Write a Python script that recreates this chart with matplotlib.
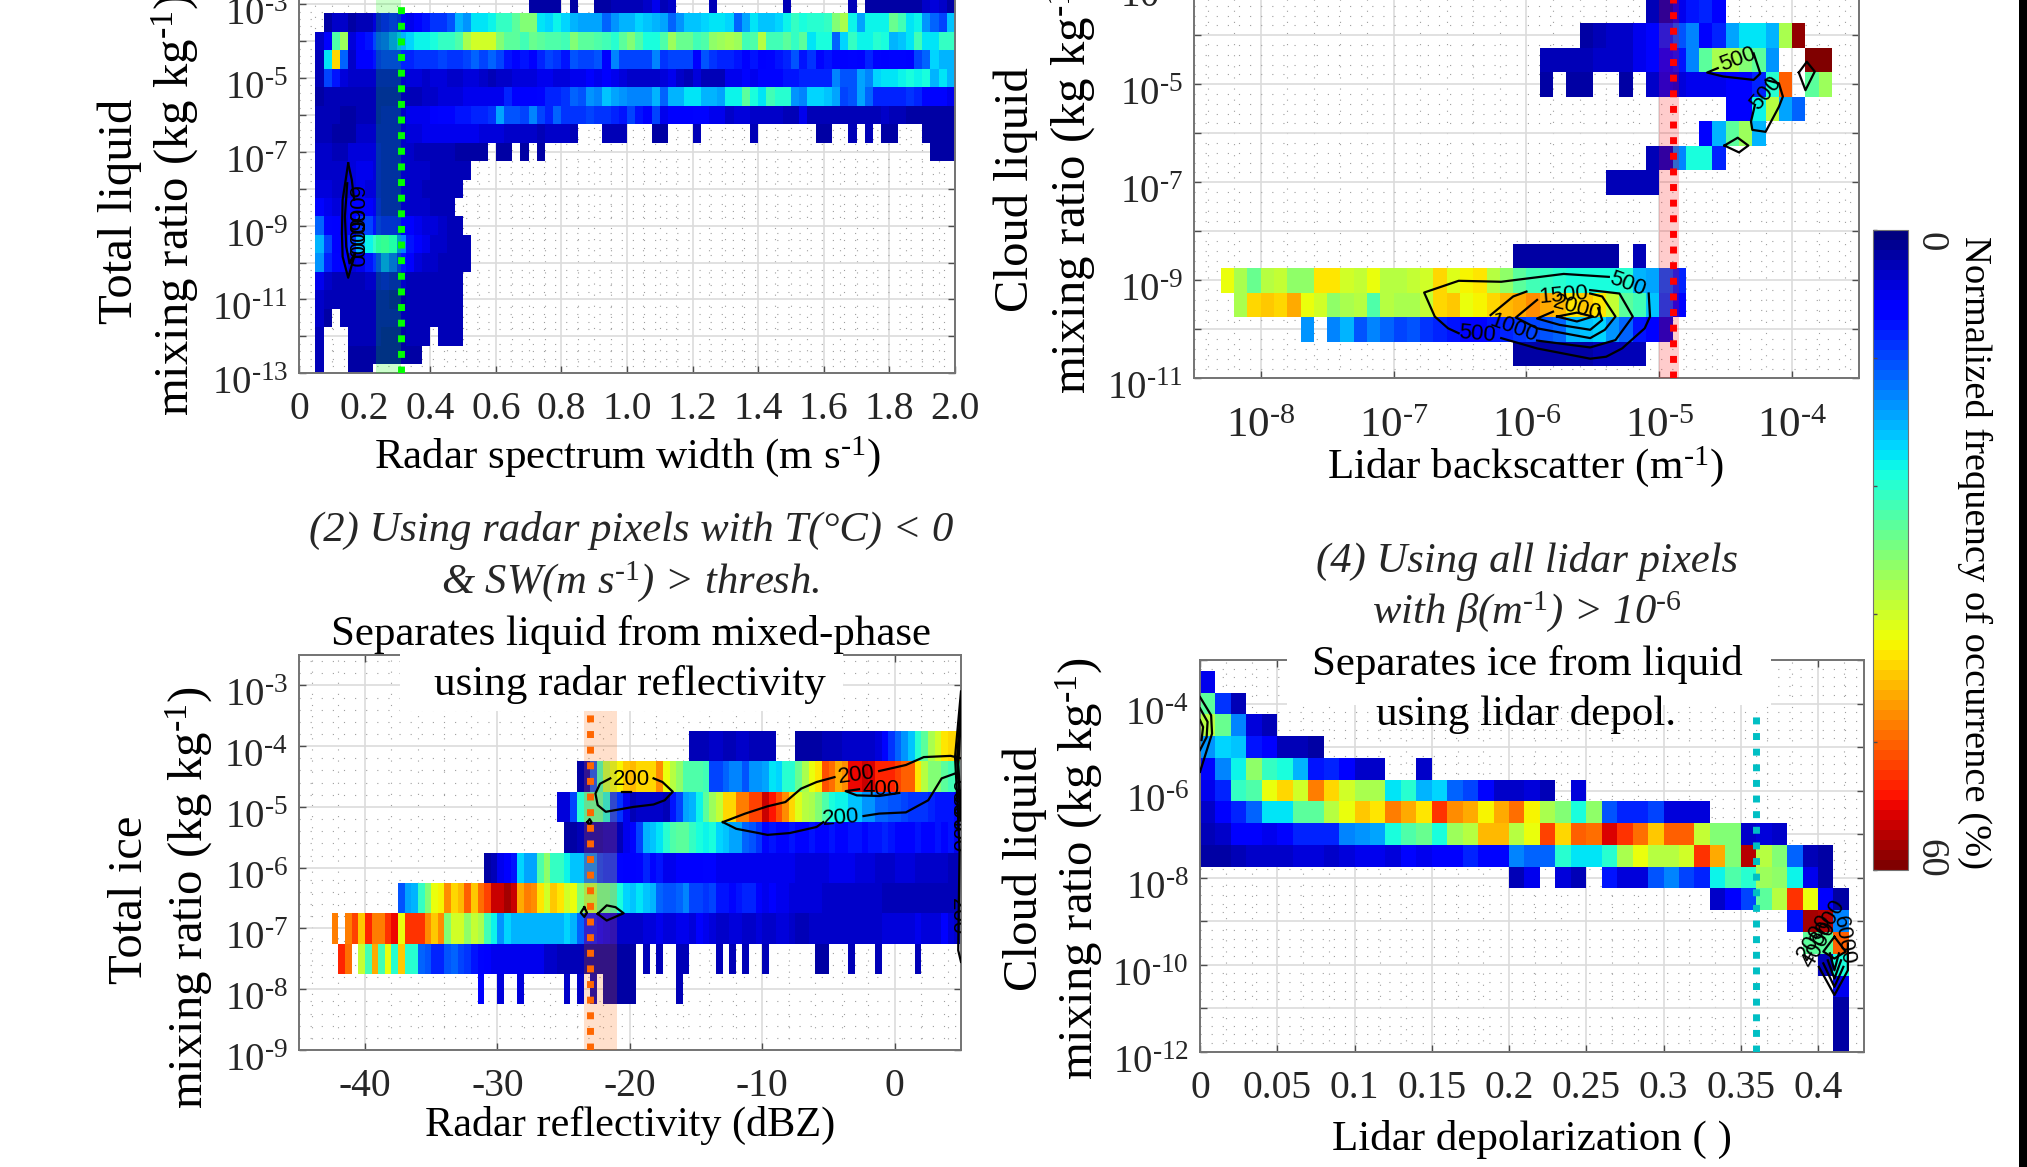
import numpy as np
import matplotlib
matplotlib.use("Agg")
import matplotlib.pyplot as plt
from matplotlib.cm import ScalarMappable
from matplotlib.colors import Normalize
from matplotlib.patches import Rectangle
from matplotlib.ticker import LogLocator, FixedLocator, NullFormatter
from matplotlib.transforms import ScaledTranslation

plt.rcParams["font.family"] = ["Liberation Serif", "DejaVu Serif"]
plt.rcParams["mathtext.fontset"] = "custom"
plt.rcParams["mathtext.rm"] = "Liberation Serif"
plt.rcParams["mathtext.it"] = "Liberation Serif:italic"
plt.rcParams["mathtext.bf"] = "Liberation Serif:bold"

W, H = 2027, 1167
_ = None

# Each grid is listed from the lowest row up, values are % of occurrence

# (1) spectrum width, bins of 0.025 m/s, log10 rows from -13.25 every 0.5
SW_THRESH = 0.311
SW_BAND = [0.235, 0.311]
SW_GRID = [
    [_]*2 + [3] + [_]*3 + [2, 2, 2],
    [_]*2 + [3] + [_]*3 + [2, 2, 2, 2, 2, 2, 2, 2, 2],
    [_]*2 + [3] + [_]*3 + [3, 3, 3, 3, 2, 2, 2, 3, 3, 3] + [_] + [3, 3, 3],
    [_]*2 + [4, 2] + [_] + [3, 3, 3, 3, 3, 3, 3, 3, 3, 3, 3, 3, 3, 3, 3],
    [_]*2 + [4, 3, 3, 3, 3, 3, 3, 3, 3, 2, 2, 3, 3, 3, 3, 3, 3, 3],
    [_]*2 + [6, 4, 3, 3, 3, 3, 4, 4, 5, 4, 4, 3, 3, 3, 3, 3, 3, 3],
    [_]*2 + [16, 10, 8, 7, 5, 6, 9, 11, 15, 13, 9, 7, 5, 4, 4, 3, 3, 3, 3],
    [_]*2 + [18, 12, 7, 7, 11, 18, 22, 25, 26, 24, 15, 9, 7, 6, 4, 4, 3, 3, 3],
    [_]*2 + [14, 8, 7, 6, 8, 11, 12, 9, 8, 8, 7, 7, 6, 5, 5, 4, 3, 3],
    [_]*2 + [8, 6, 5, 6, 7, 7, 7, 6, 4, 4, 4, 4, 4, 4, 3, 3, 3],
    [_]*2 + [5, 5, 4, 4, 5, 6, 5, 5, 4, 4, 4, 4, 4, 3, 3, 3, 3, 3],
    [_]*2 + [4, 4, 4, 4, 5, 6, 6, 5, 4, 4, 4, 4, 4, 4, 3, 3, 3, 3, 3],
    [_]*2 + [4, 4, 3, 3, 5, 5, 5, 5, 4, 4, 4, 4, 3, 3, 3, 3, 3, 2, 2, 2, 2] + [_]
    + [2, 2] + [_] + [2] + [_] + [2] + [_]*47 + [2, 2, 2],
    [_]*2 + [3, 3, 2, 2, 2, 4, 4, 4, 4, 4, 4, 5, 5, 6, 6, 6, 6, 6, 6, 6, 5, 5, 5, 4,
             4, 4, 4, 3, 4, 4, 4, 3] + [_]*3 + [3, 3, 3] + [_]*3 + [2, 2] + [_]*3
    + [3] + [_]*6 + [3] + [_]*7 + [2, 2] + [_]*2 + [3] + [_] + [3] + [_] + [2, 2]
    + [_]*3 + [2, 2, 2, 2],
    [_]*2 + [3, 3, 3, 2, 2, 3, 3, 3, 4, 4, 4, 6, 6, 6, 7, 8, 8, 9, 9, 10, 10, 11, 17,
             13, 13, 12, 15, 12, 10, 14, 11, 11, 11, 12, 11, 11, 10, 9, 12, 9, 7, 12,
             6, 7, 7, 7, 8, 8, 6, 6, 4, 5, 5, 4, 4, 4, 4, 3, 3, 6, 3, 3, 3, 3, 3, 3,
             3, 3, 3, 4, 3, 3, 2, 2, 2, 2, 2, 2],
    [_]*2 + [2, 3, 3, 3, 3, 3, 3, 3, 3, 3, 3, 3, 3, 4, 4, 5, 5, 5, 6, 6, 6, 6, 6, 10,
             7, 7, 7, 8, 10, 10, 11, 14, 13, 16, 15, 19, 17, 16, 15, 15, 15, 18, 14,
             18, 18, 21, 21, 18, 18, 17, 22, 22, 28, 23, 21, 26, 24, 24, 16, 15, 20,
             20, 19, 17, 12, 13, 17, 14, 10, 10, 10, 10, 11, 10, 8, 8, 8, 6],
    [_]*2 + [3, 12, 9, 5, 4, 4, 4, 4, 4, 4, 4, 5, 5, 4, 5, 5, 4, 4, 5, 5, 4, 3, 4, 4,
             5, 5, 5, 6, 6, 5, 5, 6, 6, 7, 6, 7, 6, 5, 4, 4, 4, 4, 5, 6, 4, 3, 5, 3,
             3, 3, 6, 6, 8, 6, 8, 8, 8, 9, 9, 10, 10, 10, 10, 15, 13, 13, 17, 15, 20,
             21, 21, 22, 23, 22, 23, 18, 21, 18],
    [_]*2 + [3, 21, 41, 14, 4, 7, 7, 9, 10, 10, 10, 10, 11, 11, 11, 12, 11, 11, 12,
             14, 12, 14, 12, 9, 8, 9, 7, 10, 12, 11, 9, 13, 12, 12, 13, 7, 15, 12, 12,
             12, 12, 15, 11, 12, 12, 12, 7, 13, 11, 10, 10, 9, 7, 9, 7, 8, 9, 10, 13,
             9, 11, 8, 9, 8, 7, 8, 7, 10, 8, 7, 8, 8, 7, 12, 14, 20, 18, 18],
    [_]*2 + [4, 7, 27, 32, 5, 8, 9, 12, 13, 15, 18, 20, 22, 22, 23, 25, 25, 27, 33,
             36, 36, 36, 30, 28, 28, 26, 29, 28, 27, 27, 26, 30, 28, 28, 27, 26, 24,
             28, 30, 27, 23, 23, 27, 32, 29, 29, 26, 27, 31, 32, 33, 32, 26, 27, 34,
             26, 26, 28, 25, 28, 21, 23, 23, 14, 20, 25, 22, 22, 24, 23, 18, 19, 21,
             26, 21, 21, 25, 25],
    [_]*3 + [2, 4, 4, 2, 3, 3, 5, 7, 9, 7, 6, 8, 9, 11, 11, 13, 18, 16, 21, 21, 22,
             25, 25, 28, 30, 30, 21, 20, 22, 20, 18, 17, 17, 17, 14, 16, 18, 18, 20,
             19, 18, 17, 14, 16, 19, 19, 20, 21, 21, 20, 14, 17, 21, 19, 19, 20, 22,
             25, 23, 24, 24, 25, 30, 33, 22, 17, 22, 22, 22, 29, 26, 21, 22, 16, 14,
             12, 19],
    [_]*28 + [2, 2, 2, 2] + [_] + [2] + [_]*2 + [2, 2, 3, 3, 3, 3, 4, 6, 3, 4] + [_]*4
    + [3] + [_]*8 + [3] + [_]*7 + [3] + [_] + [2, 2, 2, 2, 2, 2, 2, 4, 5, 4, 2, 2],
]

# (2) reflectivity, bins of 0.5 dBZ from -45, log10 rows from -8.25 every 0.5
DBZ_THRESH = -23.0
DBZ_BAND = [-23.5, -21.0]
DBZ_GRID = [
    [_]*27 + [7] + [_]*2 + [5] + [_]*2 + [5] + [_]*6 + [4] + [_] + [4] + [_] + [3] + [_]
    + [2, 2, 2, 2, 2] + [_]*6 + [3],
    [_]*6 + [52, 47] + [_] + [35, 26, 44, 26, 38, 24, 42, 24, 24, 14, 13, 10, 10, 13, 14,
                              12, 11, 9, 8, 7, 6, 6, 6, 6, 6, 6, 6, 6, 4, 4, 3, 3, 3, 3,
                              2, 2, 2, 2, 2, 2, 2, 2] + [_] + [3] + [_] + [3] + [_]*2
    + [3, 3] + [_]*4 + [3] + [_] + [3] + [_] + [3] + [_]*2 + [3] + [_]*7 + [2, 2]
    + [_]*3 + [3] + [_]*3 + [3] + [_]*5 + [3],
    [_]*5 + [46] + [_] + [46, 50, 42, 52, 46, 46, 51, 54, 38, 51, 51, 51, 45, 42, 45, 30,
                          36, 36, 31, 35, 33, 26, 22, 16, 20, 18, 18, 18, 18, 18, 18, 18,
                          18, 20, 18, 14, 9, 9, 7, 6, 5, 4, 4, 4, 4, 5, 5, 6, 5, 5, 6, 6,
                          5, 7, 6, 5, 4, 4, 5, 5, 4, 4, 5, 4, 4, 5, 5, 4, 3, 3, 4, 4, 4,
                          4, 4, 4, 4, 4, 4, 4, 4, 5, 5, 5, 5, 5, 6, 5, 5, 5, 7, 5, 4],
    [_]*15 + [13, 17, 18, 25, 30, 38, 39, 45, 41, 43, 48, 42, 47, 50, 56, 56, 58, 56, 44,
              46, 45, 40, 36, 42, 40, 36, 38, 30, 32, 33, 28, 28, 26, 23, 20, 19, 21, 19,
              18, 14, 13, 13, 14, 15, 12, 12, 11, 12, 9, 9, 8, 9, 10, 10, 7, 6, 7, 6, 6,
              5, 5, 5, 5, 5, 4, 4, 4, 4, 4, 4, 4, 4, 4, 3, 3, 3, 3, 3, 3, 3, 3, 3, 3, 3, 3],
    [_]*28 + [2, 3, 6, 7, 9, 20, 17, 17, 27, 31, 25, 25, 22, 19, 19, 15, 15, 12, 11, 11, 8,
              7, 7, 8, 10, 8, 9, 6, 6, 7, 7, 7, 7, 8, 8, 6, 6, 6, 6, 6, 6, 6, 6, 6, 6, 6,
              6, 5, 5, 5, 5, 5, 6, 6, 6, 6, 5, 5, 5, 4, 4, 4, 5, 5, 5, 4, 4, 4, 4, 4, 3, 3],
    [_]*40 + [2, 2, 3, 3, 3, 3, 4, 4, 3, 6, 8, 12, 18, 19, 21, 24, 27, 28, 28, 25, 23, 22,
              23, 20, 19, 17, 17, 14, 13, 11, 8, 9, 8, 8, 9, 8, 8, 9, 8, 8, 9, 8, 8, 9, 9,
              8, 9, 9, 10, 9, 8, 8, 8, 9, 8, 8, 9, 8, 9, 6],
    [_]*39 + [5, 5, 12, 24, 26, 27, 27, 22, 12, 11, 6, 3, 4, 4, 4, 4, 3, 9, 12, 17, 18, 22,
              28, 32, 35, 41, 41, 46, 46, 50, 50, 56, 53, 49, 45, 41, 37, 34, 33, 30, 27,
              23, 22, 22, 19, 19, 16, 16, 14, 14, 13, 13, 12, 11, 11, 11, 10, 9, 9, 9, 8],
    [_]*42 + [2, 3, 13, 25, 33, 36, 39, 42, 43, 41, 41, 41, 45, 38, 34, 31, 27, 27, 27, 26,
              12, 12, 14, 15, 15, 13, 16, 16, 17, 21, 20, 24, 24, 29, 33, 38, 40, 49, 47,
              44, 45, 54, 54, 56, 55, 52, 52, 52, 50, 48, 48, 40, 34, 30, 30, 28, 26, 26],
    [_]*59 + [3, 3, 3, 4, 4, 3, 3, 4, 4, 3, 3, 3, 3] + [_]*3
    + [2, 2, 2, 2, 3, 3, 3, 4, 4, 4, 4, 4, 5, 8, 11, 14, 16, 19, 24, 28, 33, 36, 40, 41, 41],
]

# (3) lidar backscatter, bins of 0.1 decade from -8.5, log10 rows from -10.75 every 0.5
BETA_THRESH = -4.9
BETA_BAND = [-5.0, -4.85]
BETA_GRID = [
    [_]*24 + [2, 2, 2, 2, 2, 2, 3, 3, 3, 3],
    [_]*8 + [16] + [_] + [15, 18, 13, 15, 14, 12, 13, 11, 10, 9, 8, 8, 9, 10, 11, 12, 13,
                          14, 18, 19, 20, 16, 14, 9, 7, 5],
    [_]*3 + [33, 41, 42, 41, 44, 38, 36, 31, 33, 34, 27, 34, 33, 33, 35, 41, 42, 38, 39, 41,
             43, 44, 45, 44, 43, 40, 42, 40, 35, 28, 26, 19, 12, 8],
    [_]*2 + [38, 33, 29, 34, 35, 31, 31, 40, 40, 36, 35, 38, 34, 34, 35, 36, 41, 37, 39, 40,
             34, 31, 28, 26, 25, 24, 23, 23, 23, 23, 24, 18, 17, 13, 10],
    [_]*24 + [2, 2, 2, 2, 2, 2, 2, 2] + [_] + [3],
    [],
    [],
    [_]*31 + [3, 3, 3, 3],
    [_]*34 + [3, 4, 15, 23, 23, 10],
    [_]*38 + [7, 18, 28, 32, 18],
    [_]*40 + [7, 7, 22, 34, 17, 14],
    [_]*26 + [2] + [_] + [2, 2] + [_]*2 + [2] + [_] + [4, 6, 5, 6, 6, 6, 7, 7, 10, 24, 48]
    + [_] + [28, 32],
    [_]*26 + [3, 3, 3, 3, 4, 4, 4, 6, 8, 8, 9, 15, 28, 33, 33, 30, 28, 16] + [_]*2 + [60, 60],
    [_]*29 + [2, 3, 4, 4, 6, 8, 10, 13, 15, 7, 10, 17, 21, 21, 18, 33, 59],
    [_]*34 + [3, 3, 6, 9, 10, 7],
]

# (4) lidar depolarization, bins of 0.01 from 0, log10 rows from -12.25 every 0.5
DEPOL_THRESH = 0.36
DEPOL_GRID = [
    [_]*41 + [2],
    [_]*41 + [2],
    [_]*41 + [2],
    [_]*41 + [6],
    [_]*40 + [3, 23],
    [_]*39 + [28, 28, 48],
    [_]*38 + [9, 58, 57, 15],
    [_]*33 + [4, 7, 12, 28, 34, 51, 38, 7, 2],
    [_]*20 + [3, 6] + [_] + [5, 3] + [_] + [9, 5, 5, 13, 15, 12, 10, 22, 27, 24, 32, 31, 22,
                                             6, 2],
    [2, 2, 3, 4, 4, 4, 5, 5, 4, 5, 6, 6, 5, 8, 6, 7, 7, 10, 8, 8, 15, 14, 14, 24, 21, 21,
     24, 33, 38, 34, 34, 36, 51, 44, 30, 57, 34, 30, 14, 3, 2],
    [3, 4, 7, 7, 6, 8, 10, 10, 10, 15, 16, 17, 23, 27, 29, 23, 32, 34, 43, 43, 34, 38, 50,
     41, 48, 47, 55, 51, 47, 42, 48, 48, 35, 30, 30, 4, 5, 4],
    [4, 7, 10, 14, 21, 21, 28, 28, 34, 38, 42, 40, 46, 44, 40, 51, 45, 44, 39, 44, 47, 39,
     33, 30, 23, 31, 13, 10, 10, 12, 5, 5, 5],
    [6, 10, 25, 27, 38, 41, 36, 46, 41, 36, 33, 33, 21, 24, 18, 20, 14, 12, 8, 4, 4, 5, 3]
    + [_] + [5],
    [8, 15, 22, 31, 25, 23, 18, 9, 10, 7, 4, 4] + [_]*2 + [4],
    [16, 20, 19, 9, 7, 3, 3, 2],
    [34, 29, 15, 5, 3],
    [28, 11, 3],
    [6],
]

# contour lines, log10 of the y value (and of x in panel 3)
SW_LINES = [
    ([0.150, 0.133, 0.131, 0.133, 0.150, 0.171], [-7.31, -8.30, -9.21, -9.84, -10.41, -9.75]),
    ([0.150, 0.161, 0.168], [-7.31, -7.76, -8.30]),
    ([0.147, 0.140, 0.144, 0.154, 0.171], [-7.85, -8.75, -9.57, -10.02, -9.75]),
]
SW_LABELS = [("6000", 0.167, -8.6, 270), ("6000", 0.167, -9.25, 270), ("6000", 0.167, -9.5, 270)]

DBZ_LINES = [
    ([-21.48, -22.26, -22.6, -22.43, -21.82, -19.73, -18.21, -17.37, -16.76, -17.54, -18.21],
     [-4.53, -4.62, -4.78, -4.97, -5.08, -5.0, -4.96, -4.89, -4.75, -4.59, -4.53]),
    ([-12.98, -11.3, -9.61, -8.26, -7.08, -5.9, -4.55], [-5.25, -5.11, -4.99, -4.92, -4.70, -4.59, -4.51]),
    ([-1.18, 0.84, 2.19, 4.22, 5.0], [-4.41, -4.31, -4.18, -4.16, -4.2]),
    ([-12.98, -11.97, -10.29, -9.61, -7.93, -5.9, -5.4], [-5.25, -5.36, -5.43, -5.46, -5.43, -5.33, -5.25]),
    ([-2.36, -1.18, 0.84, 2.53, 3.54, 4.55], [-5.15, -5.11, -5.09, -4.89, -4.53, -4.45]),
    ([-2.7, -3.71, -2.87, -1.18, 0.34], [-4.71, -4.74, -4.81, -4.82, -4.77]),
    ([-23.44, -23.71, -23.44, -23.24, -23.44], [-6.65, -6.74, -6.81, -6.74, -6.65]),
    ([-22.43, -21.75, -21.08, -20.47, -21.75, -22.43], [-6.76, -6.62, -6.65, -6.75, -6.87, -6.76]),
    ([-23.2, -23.04, -22.9, -23.04, -23.2], [-5.25, -5.2, -5.25, -5.3, -5.25]),
    ([-20.57, -19.9], [-4.75, -4.75]),
    ([5.0, 4.55, 4.75, 4.89, 4.79, 5.0], [-3.1, -4.18, -5.0, -5.71, -7.36, -7.55]),
    ([5.0, 4.7, 4.95], [-3.3, -4.2, -5.2]),
    ([5.0, 4.8, 5.0], [-3.5, -4.3, -5.1]),
]
DBZ_LABELS = [("200", -19.9, -4.55, 0), ("200", -2.87, -4.48, 8), ("200", -4.05, -5.18, 5),
              ("400", -1.0, -4.71, 0), ("400", 4.75, -5.44, 270), ("200", 4.72, -6.81, 270),
              ("000", 4.75, -4.85, 270), ("000", 4.75, -5.1, 270)]

BETA_LINES = [
    ([-6.51, -6.59, -6.69, -6.77, -6.51, -6.19, -5.72, -5.38], [-10.08, -9.98, -9.74, -9.25, -9.01, -9.03, -8.87, -8.93]),
    ([-6.19, -5.92, -5.52, -5.40, -5.28, -5.11, -5.07, -5.08], [-10.18, -10.39, -10.60, -10.56, -10.39, -9.98, -9.74, -9.27]),
    ([-5.92, -5.52, -5.33, -5.2, -5.3, -5.52], [-10.23, -10.37, -10.22, -9.74, -9.27, -9.2]),
    ([-6.0, -6.10, -6.27], [-9.23, -9.33, -9.71]),
    ([-5.92, -6.08, -5.92, -5.52, -5.41, -5.33, -5.43, -5.52], [-9.4, -9.76, -9.98, -10.18, -10.01, -9.74, -9.33, -9.27]),
    ([-5.80, -5.92, -5.75, -5.52, -5.43, -5.46], [-9.64, -9.78, -9.91, -10.01, -9.81, -9.57]),
    ([-5.77, -5.62, -5.5, -5.62, -5.77], [-9.74, -9.84, -9.74, -9.66, -9.74]),
    ([-4.56, -4.64, -4.52, -4.29, -4.24, -4.29], [-4.67, -4.76, -4.84, -4.91, -4.78, -4.37]),
    ([-4.2, -4.10, -4.07, -4.10, -4.2, -4.3, -4.31, -4.28], [-4.91, -4.98, -5.25, -5.46, -5.97, -5.93, -5.76, -5.42]),
    ([-3.95, -3.89, -3.83, -3.9, -3.95], [-4.76, -4.54, -4.74, -5.12, -4.76]),
    ([-4.51, -4.41, -4.33, -4.40, -4.51], [-6.25, -6.09, -6.25, -6.39, -6.25]),
]
BETA_LABELS = [("500", -5.24, -9.07, -20), ("500", -6.37, -10.10, -5), ("1000", -6.10, -9.98, -20),
               ("1500", -5.72, -9.30, 5), ("2000", -5.62, -9.57, -15), ("500", -4.41, -4.49, 20),
               ("500", -4.2, -5.18, 50)]

DEPOL_LINES = [
    ([0, 0.0072, 0.0078, 0], [-3.85, -4.27, -4.69, -5.57]),
    ([0, 0.0049, 0.0043, 0], [-4.11, -4.42, -4.77, -5.07]),
    ([0, 0.002, 0.001], [-4.38, -4.54, -4.84]),
    ([0.4005, 0.4106, 0.4193, 0.4193], [-10.05, -10.70, -10.13, -9.51]),
    ([0.4034, 0.4106, 0.4164], [-9.97, -10.51, -10.05]),
    ([0.4063, 0.4106, 0.4149], [-9.90, -10.32, -9.90]),
    ([0.4077, 0.4106, 0.4135], [-9.74, -10.13, -9.74]),
    ([0.4106, 0.4034, 0.4106, 0.4179, 0.4106], [-9.36, -9.70, -9.86, -9.70, -9.36]),
]
DEPOL_LABELS = [("2000", 0.3976, -9.36, 60), ("3000", 0.4063, -9.05, 60), ("4000", 0.4005, -9.55, 60),
                ("6000", 0.4164, -9.44, 280)]


def pow_label(exp):
    return r"$\mathregular{10^{\text{-%d}}}$" % exp


def to_grid(rows, ncols):
    out = np.full((len(rows), ncols), np.nan)
    for i, row in enumerate(rows):
        for k, v in enumerate(row[:ncols]):
            if v is not None:
                out[i, k] = v
    return np.ma.masked_invalid(out)


def add_axes_px(fig, left, top, right, bottom):
    return fig.add_axes([left / W, 1 - bottom / H, (right - left) / W, (bottom - top) / H])


def fig_text(fig, x, y, s, size, color="black", **kw):
    fig.text(x / W, 1 - y / H, s, fontsize=size, color=color, ha="center", va="center",
             zorder=6, **kw)


def style_axes(ax, ymin, ymax, yticks, ylabeled, xminor):
    ax.set_yscale("log")
    ax.set_ylim(10.0 ** ymin, 10.0 ** ymax)
    ax.yaxis.set_major_locator(FixedLocator([10.0 ** e for e in yticks]))
    ax.set_yticklabels([pow_label(-e) if e in ylabeled else "" for e in yticks])
    ax.yaxis.set_minor_locator(LogLocator(base=10, subs=10 ** np.array([0.2, 0.4, 0.6, 0.8]), numticks=30))
    ax.yaxis.set_minor_formatter(NullFormatter())
    if xminor is not None:
        ax.xaxis.set_minor_locator(FixedLocator(xminor))
    ax.set_axisbelow(True)
    ax.grid(True, which="major", color="0.86", lw=1.2)
    ax.grid(True, which="minor", color="0.62", lw=0.8, ls=(0, (1, 9)))
    ax.tick_params(which="major", direction="in", length=5, width=1, color="0.3",
                   top=True, right=True, labelcolor="0.15")
    ax.tick_params(axis="y", which="major", labelsize=28, pad=8)
    ax.tick_params(axis="x", which="major", labelsize=28.5, pad=13)
    ax.tick_params(which="minor", length=0)
    for s in ax.spines.values():
        s.set_color("0.45")
        s.set_linewidth(1.4)
    # the "10" sits on the tick and the exponent above it
    shift = ScaledTranslation(0, -0.07, ax.figure.dpi_scale_trans)
    for lab in ax.get_yticklabels():
        lab.set_transform(lab.get_transform() + shift)


def draw_lines(ax, lines, labels, xlog=False):
    for xs, ys in lines:
        xs = np.array(xs, dtype=float)
        ax.plot(10.0 ** xs if xlog else xs, 10.0 ** np.array(ys), color="black", lw=1.6, zorder=4)
    for s, x, y, rot in labels:
        ax.text(10.0 ** x if xlog else x, 10.0 ** y, s, fontsize=16, family="Liberation Sans",
                rotation=rot, ha="center", va="center", zorder=5, clip_on=True)


def threshold(ax, x, color, band=None, ymax=1.0):
    if band is not None:
        ax.axvspan(band[0], band[1], color=color, alpha=0.2, lw=0, zorder=3)
    ax.axvline(x, ymax=ymax, color=color, lw=5, ls=(0, (1, 1.25)), dash_capstyle="butt", zorder=4.5)


def main():
    fig = plt.figure(figsize=(W / 100, H / 100), dpi=100, facecolor="white")
    cmap = plt.get_cmap("jet", 64)
    opts = dict(cmap=cmap, vmin=0, vmax=60, shading="flat", antialiased=False, linewidth=0, zorder=2)

    # (1) spectrum width
    ax1 = add_axes_px(fig, 299, -14.2, 955, 373.3)
    x1 = 0.025 * np.arange(81)
    y1 = -13.25 + 0.5 * np.arange(len(SW_GRID) + 1)
    ax1.pcolormesh(x1, 10.0 ** y1, to_grid(SW_GRID, 80), **opts)
    style_axes(ax1, -13, -2.5, list(range(-13, -2)), [-13, -11, -9, -7, -5, -3], np.arange(0, 2.01, 0.05))
    ax1.set_xlim(0, 2)
    ax1.set_xticks(np.arange(0, 2.01, 0.2))
    ax1.set_xticklabels(["0", "0.2", "0.4", "0.6", "0.8", "1.0", "1.2", "1.4", "1.6", "1.8", "2.0"])
    threshold(ax1, SW_THRESH, "#00FF00", SW_BAND)
    draw_lines(ax1, SW_LINES, SW_LABELS)

    # (2) reflectivity
    ax2 = add_axes_px(fig, 298.75, 655, 961, 1050)
    x2 = -45 + 0.5 * np.arange(101)
    y2 = -8.25 + 0.5 * np.arange(len(DBZ_GRID) + 1)
    ax2.pcolormesh(x2, 10.0 ** y2, to_grid(DBZ_GRID, 100), **opts)
    style_axes(ax2, -9, -2.5, list(range(-9, -2)), list(range(-9, -2)), np.arange(-44, 5, 2))
    ax2.set_xlim(-45, 5)
    ax2.set_xticks([-40, -30, -20, -10, 0])
    ax2.set_xticklabels(["-40", "-30", "-20", "-10", "0"])
    threshold(ax2, DBZ_THRESH, "#FF6600", DBZ_BAND)
    draw_lines(ax2, DBZ_LINES, DBZ_LABELS)

    # (3) lidar backscatter, x drawn on a log scale
    ax3 = add_axes_px(fig, 1194.3, -13.7, 1858.6, 378.3)
    x3 = 10.0 ** (-8.5 + 0.1 * np.arange(51))
    y3 = -10.75 + 0.5 * np.arange(len(BETA_GRID) + 1)
    ax3.pcolormesh(x3, 10.0 ** y3, to_grid(BETA_GRID, 50), **opts)
    ax3.set_xscale("log")
    style_axes(ax3, -11, -3, list(range(-11, -2)), [-11, -9, -7, -5, -3], None)
    ax3.set_xlim(10.0 ** -8.5, 10.0 ** -3.5)
    ax3.xaxis.set_major_locator(FixedLocator([10.0 ** e for e in range(-8, -3)]))
    ax3.set_xticklabels([pow_label(e) for e in [8, 7, 6, 5, 4]])
    ax3.xaxis.set_minor_locator(LogLocator(base=10, subs=10 ** np.array([0.2, 0.4, 0.6, 0.8]), numticks=30))
    ax3.xaxis.set_minor_formatter(NullFormatter())
    ax3.tick_params(axis="x", which="major", labelsize=31, pad=21)
    ax3.tick_params(axis="x", which="minor", length=0)
    threshold(ax3, 10.0 ** BETA_THRESH, "#FF0000", [10.0 ** b for b in BETA_BAND])
    draw_lines(ax3, BETA_LINES, BETA_LABELS, xlog=True)

    # (4) lidar depolarization
    ax4 = add_axes_px(fig, 1200, 660, 1864.4, 1051.7)
    x4 = 0.01 * np.arange(43)
    y4 = -12.25 + 0.5 * np.arange(len(DEPOL_GRID) + 1)
    ax4.pcolormesh(x4, 10.0 ** y4, to_grid(DEPOL_GRID, 42), **opts)
    style_axes(ax4, -12, -3, list(range(-12, -2)), [-12, -10, -8, -6, -4], np.arange(0, 0.43, 0.05 / 3))
    ax4.set_xlim(0, 0.43)
    ax4.set_xticks(np.arange(0, 0.41, 0.05))
    ax4.set_xticklabels(["0", "0.05", "0.1", "0.15", "0.2", "0.25", "0.3", "0.35", "0.4"])
    threshold(ax4, DEPOL_THRESH, "#00BFC4", ymax=0.865)
    draw_lines(ax4, DEPOL_LINES, DEPOL_LABELS)

    # white boxes behind the titles that sit over the axes
    for left, top, right, bottom in [(400, 645, 843, 711), (1287, 650, 1771, 705)]:
        fig.add_artist(Rectangle((left / W, 1 - bottom / H), (right - left) / W, (bottom - top) / H,
                                 transform=fig.transFigure, facecolor="white", edgecolor="none", zorder=5))

    # black strip on the right edge of the page
    fig.add_artist(Rectangle((2019 / W, 0), 8 / W, 1, transform=fig.transFigure,
                             facecolor="black", edgecolor="none", zorder=5))

    # colorbar, 0 at the top
    cax = add_axes_px(fig, 1873, 229.5, 1908, 870)
    cb = fig.colorbar(ScalarMappable(Normalize(0, 60), cmap), cax=cax)
    cax.invert_yaxis()
    cb.set_ticks([0, 12, 24, 36, 48, 60])
    cax.tick_params(axis="y", left=True, right=False, labelleft=False, labelright=False, direction="in",
                    length=3, width=1, color="0.3")
    cb.outline.set_edgecolor("0.45")
    fig_text(fig, 1930, 242, "0", 28, color="0.15", rotation=270)
    fig_text(fig, 1930, 858, "60", 28, color="0.15", rotation=270)
    fig_text(fig, 1975, 553, "Normalized frequency of occurrence (%)", 27.7, rotation=270)

    # axis labels
    fig_text(fig, 627, 457, r"Radar spectrum width (m s$^{\text{-1}}$)", 31)
    fig_text(fig, 1525, 467, r"Lidar backscatter (m$^{\text{-1}}$)", 31)
    fig_text(fig, 630, 1125, "Radar reflectivity (dBZ)", 30.4)
    fig_text(fig, 1532, 1139, "Lidar depolarization ( )", 31)

    fig_text(fig, 120, 211, "Total liquid", 35, rotation=90)
    fig_text(fig, 175, 205, r"mixing ratio (kg kg$^{\text{-1}}$)", 35, rotation=90)
    fig_text(fig, 1016, 190, "Cloud liquid", 35, rotation=90)
    fig_text(fig, 1072, 183, r"mixing ratio (kg kg$^{\text{-1}}$)", 35, rotation=90)
    fig_text(fig, 130, 900, "Total ice", 35, rotation=90)
    fig_text(fig, 189, 898, r"mixing ratio (kg kg$^{\text{-1}}$)", 35, rotation=90)
    fig_text(fig, 1025, 869, "Cloud liquid", 35, rotation=90)
    fig_text(fig, 1079, 869, r"mixing ratio (kg kg$^{\text{-1}}$)", 35, rotation=90)

    # titles
    fig_text(fig, 631, 530, "(2) Using radar pixels with T(°C) < 0", 30.7, color="0.15", style="italic")
    fig_text(fig, 630, 582, r"& SW(m s$^{\text{-}\mathit{1}}$) > thresh.", 30.7, color="0.15", style="italic")
    fig_text(fig, 631, 634, "Separates liquid from mixed-phase", 31)
    fig_text(fig, 630, 684, "using radar reflectivity", 31)
    fig_text(fig, 1527, 561, "(4) Using all lidar pixels", 30.7, color="0.15", style="italic")
    fig_text(fig, 1527, 612, r"with β(m$^{\text{-}\mathit{1}}$) > 10$^{\text{-}\mathit{6}}$", 30.7, color="0.15", style="italic")
    fig_text(fig, 1527, 664, "Separates ice from liquid", 31)
    fig_text(fig, 1526, 715, "using lidar depol.", 31)

    fig.savefig("out.png", dpi=100, facecolor="white")
    plt.close(fig)


if __name__ == "__main__":
    main()
